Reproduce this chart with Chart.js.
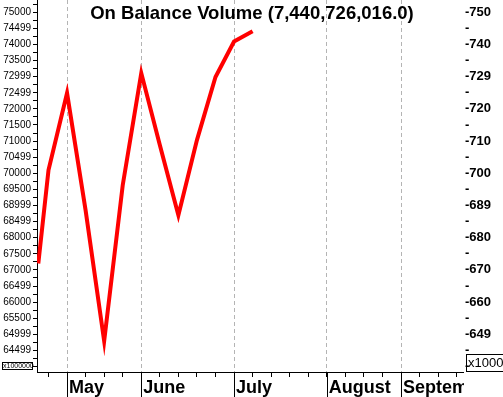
<!DOCTYPE html>
<html>
<head>
<meta charset="utf-8">
<script src="https://cdn.jsdelivr.net/npm/chart.js@4.4.0/dist/chart.umd.min.js"></script>
<style>
  body { margin: 0; background: #fff; }
  canvas { display: block; }
</style>
</head>
<body>
<canvas id="obvChart" width="503" height="397"></canvas>
<script>
// --- Data (weekly closes of the indicator) ---

const weeks = [-0.55, 0, 1, 2, 3, 4, 5, 6, 7, 8, 9, 10, 11];
const obvValues = [67200, 70100, 72490, 68850, 64790, 69630, 73110, 70880, 68700, 71030, 72990, 74090, 74407];

const monthNames = ["May", "June", "July", "August", "September"];
const monthWeeks = [1, 5, 10, 15, 19];

const leftTickValues = [75000, 74500, 74000, 73500, 73000, 72500, 72000, 71500, 71000, 70500, 70000,
  69500, 69000, 68500, 68000, 67500, 67000, 66500, 66000, 65500, 65000, 64500];
const leftTickLabels = ["75000", "74499", "74000", "73500", "72999", "72499", "72000", "71500", "71000", "70499", "70000",
  "69500", "68999", "68499", "68000", "67500", "67000", "66499", "66000", "65500", "64999", "64499"];

const rightTickValues = [75000, 74000, 73000, 72000, 71000, 70000, 69000, 68000, 67000, 66000, 65000];
const rightTickLabels = ["750", "740", "729", "720", "710", "700", "689", "680", "670", "660", "649"];

const titleText = "On Balance Volume (7,440,726,016.0)";
const leftUnit = "x1000000";
const rightUnit = "x1000";

const Y_MIN = 63830;
const Y_MAX = 75380;
const X_MIN = -0.62;
const X_MAX = 22.34;

// --- Helpers ---

function stepTicks(scale, step) {
  const ticks = [];
  for (let v = Math.ceil(scale.min / step) * step; v <= scale.max; v += step) {
    ticks.push({ value: v });
  }
  scale.ticks = ticks;
}

function fixWidth(w) {
  return (scale) => {
    scale.width = w;
    scale.paddingTop = 0;
    scale.paddingBottom = 0;
  };
}

// --- Extra drawing: title, month separators, unit boxes ---

const decorations = {
  id: "decorations",
  afterDraw(chart) {
    const { ctx, chartArea, scales } = chart;
    ctx.save();

    // month separators run down through the label strip
    ctx.strokeStyle = "#000";
    ctx.lineWidth = 1;
    monthWeeks.forEach((w) => {
      const px = Math.round(scales.x.getPixelForValue(w)) + 0.5;
      ctx.beginPath();
      ctx.moveTo(px, chartArea.bottom);
      ctx.lineTo(px, chart.height);
      ctx.stroke();
    });

    // month names are cut off at the plot edge
    ctx.fillStyle = "#fff";
    ctx.fillRect(chartArea.right + 1, chartArea.bottom + 6, chart.width, chart.height);

    // title
    ctx.fillStyle = "#000";
    ctx.font = "bold 18.5px 'Liberation Sans', Arial, sans-serif";
    ctx.textAlign = "center";
    ctx.textBaseline = "middle";
    ctx.fillText(titleText, 252, 14);

    // unit boxes
    ctx.lineWidth = 1;
    ctx.strokeStyle = "#000";
    ctx.strokeRect(466.5, 354.5, 40, 17);
    ctx.font = "13px 'Liberation Sans', Arial, sans-serif";
    ctx.textAlign = "left";
    ctx.fillText(rightUnit, 468, 363);

    ctx.strokeRect(2.5, 362.5, 30, 7);
    ctx.font = "7px 'Liberation Sans', Arial, sans-serif";
    ctx.fillText(leftUnit, 3, 366.5);

    ctx.restore();
  },
};

// --- Chart ---

const ctx = document.getElementById("obvChart");

new Chart(ctx, {
  type: "line",
  data: {
    datasets: [
      {
        data: weeks.map((w, i) => ({ x: w, y: obvValues[i] })),
        borderColor: "#ff0000",
        borderWidth: 4,
        pointRadius: 0,
        tension: 0,
        yAxisID: "y",
      },
    ],
  },
  options: {
    responsive: false,
    animation: false,
    events: [],
    layout: { padding: 0 },
    plugins: {
      legend: { display: false },
      title: { display: false },
      tooltip: { enabled: false },
    },
    scales: {
      x: {
        type: "linear",
        min: X_MIN,
        max: X_MAX,
        afterBuildTicks: (scale) => stepTicks(scale, 1),
        afterFit: (scale) => {
          scale.height = 25;
          scale.paddingLeft = 0;
          scale.paddingRight = 0;
        },
        grid: {
          color: (c) => (c.tick && monthWeeks.includes(c.tick.value) ? "#b4b4b4" : "rgba(0,0,0,0)"),
          lineWidth: 1,
          tickColor: "#000",
          tickLength: 5,
          tickBorderDash: [],
        },
        border: { display: true, color: "#000", width: 1, dash: [4, 3] },
        ticks: {
          autoSkip: false,
          maxRotation: 0,
          align: "start",
          labelOffset: 2,
          padding: 0,
          color: "#000",
          font: { family: "'Liberation Sans', Arial, sans-serif", size: 18, weight: "bold" },
          callback: (value) => {
            const idx = monthWeeks.indexOf(value);
            return idx >= 0 ? monthNames[idx] : "";
          },
        },
      },
      y: {
        position: "left",
        min: Y_MIN,
        max: Y_MAX,
        afterBuildTicks: (scale) => stepTicks(scale, 250),
        afterFit: fixWidth(37),
        grid: { drawOnChartArea: false, tickColor: "#000", tickLength: 4 },
        border: { display: true, color: "#000", width: 1 },
        ticks: {
          autoSkip: false,
          padding: 2,
          color: "#000",
          font: { family: "'Liberation Sans', Arial, sans-serif", size: 10 },
          callback: (value) => {
            const idx = leftTickValues.indexOf(value);
            return idx >= 0 ? leftTickLabels[idx] : "";
          },
        },
      },
      y2: {
        position: "right",
        min: Y_MIN,
        max: Y_MAX,
        afterBuildTicks: (scale) => stepTicks(scale, 500),
        afterFit: fixWidth(40),
        grid: { display: false, drawTicks: false },
        border: { display: false },
        ticks: {
          autoSkip: false,
          padding: 2,
          color: "#000",
          font: { family: "'Liberation Sans', Arial, sans-serif", size: 13, weight: "bold" },
          callback: (value) => {
            const idx = rightTickValues.indexOf(value);
            return idx >= 0 ? "-" + rightTickLabels[idx] : "-";
          },
        },
      },
    },
  },
  plugins: [decorations],
});
</script>
</body>
</html>
